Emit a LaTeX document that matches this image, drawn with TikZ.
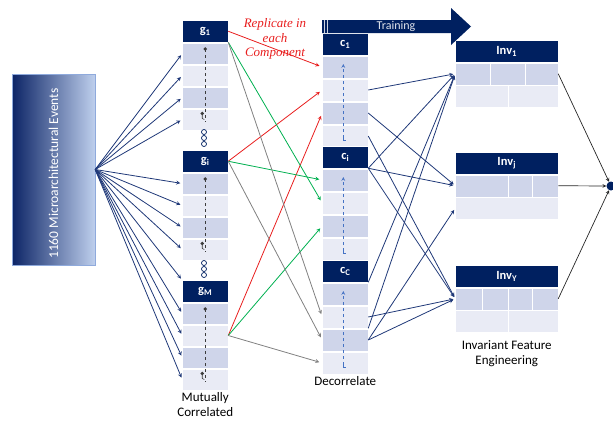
\documentclass[tikz,border=0pt]{standalone}
\usepackage{fontspec}
\setmainfont{Carlito}
\newfontfamily\notefont{Liberation Serif}
\usetikzlibrary{matrix,arrows,positioning}

\definecolor{navy}{RGB}{0,32,96}
\definecolor{rowa}{RGB}{207,213,234}
\definecolor{rowb}{RGB}{233,235,245}
\definecolor{fanblue}{RGB}{31,56,120}
\definecolor{cblue}{RGB}{68,114,196}
\definecolor{repred}{RGB}{232,30,30}
\definecolor{repgreen}{RGB}{0,176,80}
\definecolor{repgray}{RGB}{128,128,128}
\definecolor{evdark}{RGB}{12,36,102}
\definecolor{evlight}{RGB}{190,207,237}
\definecolor{evedge}{RGB}{143,170,220}
\definecolor{ink}{RGB}{60,60,60}

\begin{document}
\begin{tikzpicture}[x=1pt,y=-1pt,>=stealth,
  blk/.style 2 args={matrix of nodes, nodes in empty cells, anchor=north west,
    inner sep=0pt, outer sep=0pt, row sep=0pt,
    nodes={inner sep=0pt, outer sep=0pt, minimum width=#1, minimum height=#2,
      fill=rowa, draw=white, line width=0.5pt},
    row 1/.style={nodes={fill=navy, text=white, minimum height=22pt,
      font=\bfseries\fontsize{12.5}{13}\selectfont}},
    row 3/.style={nodes={fill=rowb}},
    row 5/.style={nodes={fill=rowb}}},
  evbox/.style={left color=evdark, right color=evlight, draw=evedge,
    minimum width=83pt, minimum height=191pt, inner sep=0pt},
  lbl/.style={align=center, font=\fontsize{13}{15}\selectfont},
  note/.style={align=center, text=repred, font=\notefont\itshape\fontsize{13}{14.5}\selectfont},
  fan/.style={->, fanblue, line width=0.8pt, shorten >=2pt},
  redarr/.style={->, repred, line width=0.8pt, shorten >=3pt},
  greenarr/.style={->, repgreen, line width=0.8pt, shorten >=3pt},
  grayarr/.style={->, repgray, line width=0.8pt, shorten >=3pt},
  navyarr/.style={->, fanblue, line width=0.8pt, shorten >=2pt},
  outarr/.style={->, black!85, line width=0.7pt}]
\useasboundingbox (0,0) rectangle (613,421);

% events box
\node[evbox] (ev) at (53.5,169.5) {};
\node[rotate=90, text=white, font=\fontsize{13.5}{15}\selectfont] (evtext)
  at ([yshift=-4pt]ev.center) {1160 Microarchitectural Events};

% groups, components, invariants
\foreach \nm/\sb/\yy in {g1/1/20, gi/i/150, gM/M/280}
  \matrix (\nm) [blk={46pt}{21.5pt}] at (182,\yy) {g\textsubscript{\sb}\\ \\ \\ \\ \\};
\foreach \nm/\sb/\yy in {c1/1/33, ci/i/146, cC/C/260}
  \matrix (\nm) [blk={46pt}{22.5pt}] at (322,\yy) {c\textsubscript{\sb}\\ \\ \\ \\ \\};
\foreach \nm/\sb/\yy in {inv1/1/40, invj/j/152, invy/Y/265}
  \matrix (\nm) [blk={103pt}{22pt}] at (455,\yy) {Inv\textsubscript{\sb}\\ \\ \\};

% cell splits in the invariant tables
\foreach \nm/\dx/\r in {inv1/35/2, inv1/70/2, inv1/53/3, invj/53/2, invj/77/2,
    invy/27/2, invy/53/2, invy/77/2, invy/53/3}
  \draw[white, line width=1pt] ([xshift=\dx pt]\nm-\r-1.north west)
    -- ([xshift=\dx pt]\nm-\r-1.south west);

% marks inside the blocks
\foreach \nm in {g1,gi,gM} {
  \fill[ink] ([yshift=4.5pt]\nm-2-1.center) circle (1.8pt);
  \draw[ink, dashed, line width=0.7pt] ([yshift=4.5pt]\nm-2-1.center)
    -- ([yshift=-2pt]\nm-5-1.center);
  \fill[ink] ([xshift=-3pt,yshift=6pt]\nm-5-1.center) circle (1.8pt);
  \draw[ink, line width=0.6pt] ([xshift=-3pt,yshift=6pt]\nm-5-1.center)
    -- ++(0,5) -- ++(2,1);
}
\foreach \nm in {c1,ci,cC} {
  \draw[cblue, dashed, ->, line width=0.7pt] ([xshift=-2pt,yshift=-2pt]\nm-5-1.center)
    -- ([xshift=-2pt,yshift=3pt]\nm-2-1.center);
  \draw[cblue, line width=0.7pt] ([xshift=-2pt,yshift=-1pt]\nm-5-1.center)
    -- ++(0,3) -- ++(3,0);
}
\foreach \yy in {132,138,144,263,269,275}
  \draw[navy, line width=0.7pt] (204,\yy) circle (2.5pt);

% training arrow
\fill[navy] (322,20) -- (451,20) -- (451,8) -- (471,26.5) -- (451,45)
  -- (451,33) -- (322,33) -- cycle;
\draw[white!80!navy, line width=0.6pt] (324,20) -- (324,33) (327,20) -- (327,33);
\node[text=white!88!navy, font=\fontsize{12}{13}\selectfont] (train) at (396,26.5) {Training};

\node[note] (rep) at (275,39) {Replicate in\\each\\Component};

\node[circle, fill=navy, minimum size=9pt, inner sep=0pt] (out) at (611,186) {};

% connectors
\path[fan]
  (ev.east) edge (g1-2-1.west) edge (g1-3-1.west) edge (g1-4-1.west) edge (g1-5-1.west)
            edge (gi-2-1.west) edge (gi-3-1.west) edge (gi-4-1.west) edge (gi-5-1.west)
            edge (gM-1-1.north west) edge (gM-2-1.west) edge (gM-3-1.west)
            edge (gM-4-1.west) edge (gM-5-1.west);
\path[redarr]
  (g1-1-1.east) edge (c1-2-1.west)
  (gi-1-1.east) edge (c1-3-1.west)
  (gM-3-1.east) edge (c1-4-1.west);
\path[greenarr]
  (g1-1-1.south east) edge (ci-3-1.west)
  (gi-1-1.east) edge (ci-2-1.west)
  (gM-3-1.east) edge (ci-4-1.west);
\path[grayarr]
  (g1-1-1.south east) edge (cC-3-1.west)
  (gi-1-1.east) edge (cC-4-1.west)
  (gM-3-1.east) edge (cC-5-1.west);
\path[navyarr]
  (c1-3-1.east) edge (inv1-2-1.west)
  (c1-4-1.east) edge (invj-2-1.west)
  (c1-5-1.east) edge (invy-2-1.west)
  (ci-1-1.south east) edge (inv1-2-1.west) edge (invj-2-1.west) edge (invy-2-1.west)
  (cC-1-1.south east) edge (inv1-2-1.west)
  (cC-3-1.east) edge (invy-2-1.west)
  (cC-3-1.south east) edge (inv1-2-1.west)
  (cC-4-1.east) edge (invj-3-1.west) edge (invy-2-1.west);
\path[outarr]
  (inv1-2-1.east) edge (out)
  (invj-2-1.east) edge (out)
  (invy-2-1.east) edge (out);

% captions
\node[lbl, below=-2pt of gM] (mutual) {Mutually\\Correlated};
\node[lbl, below=-2pt of cC] (decor) {Decorrelate};
\node[lbl, below=5pt of invy] (inveng) {Invariant Feature\\Engineering};
\end{tikzpicture}
\end{document}
